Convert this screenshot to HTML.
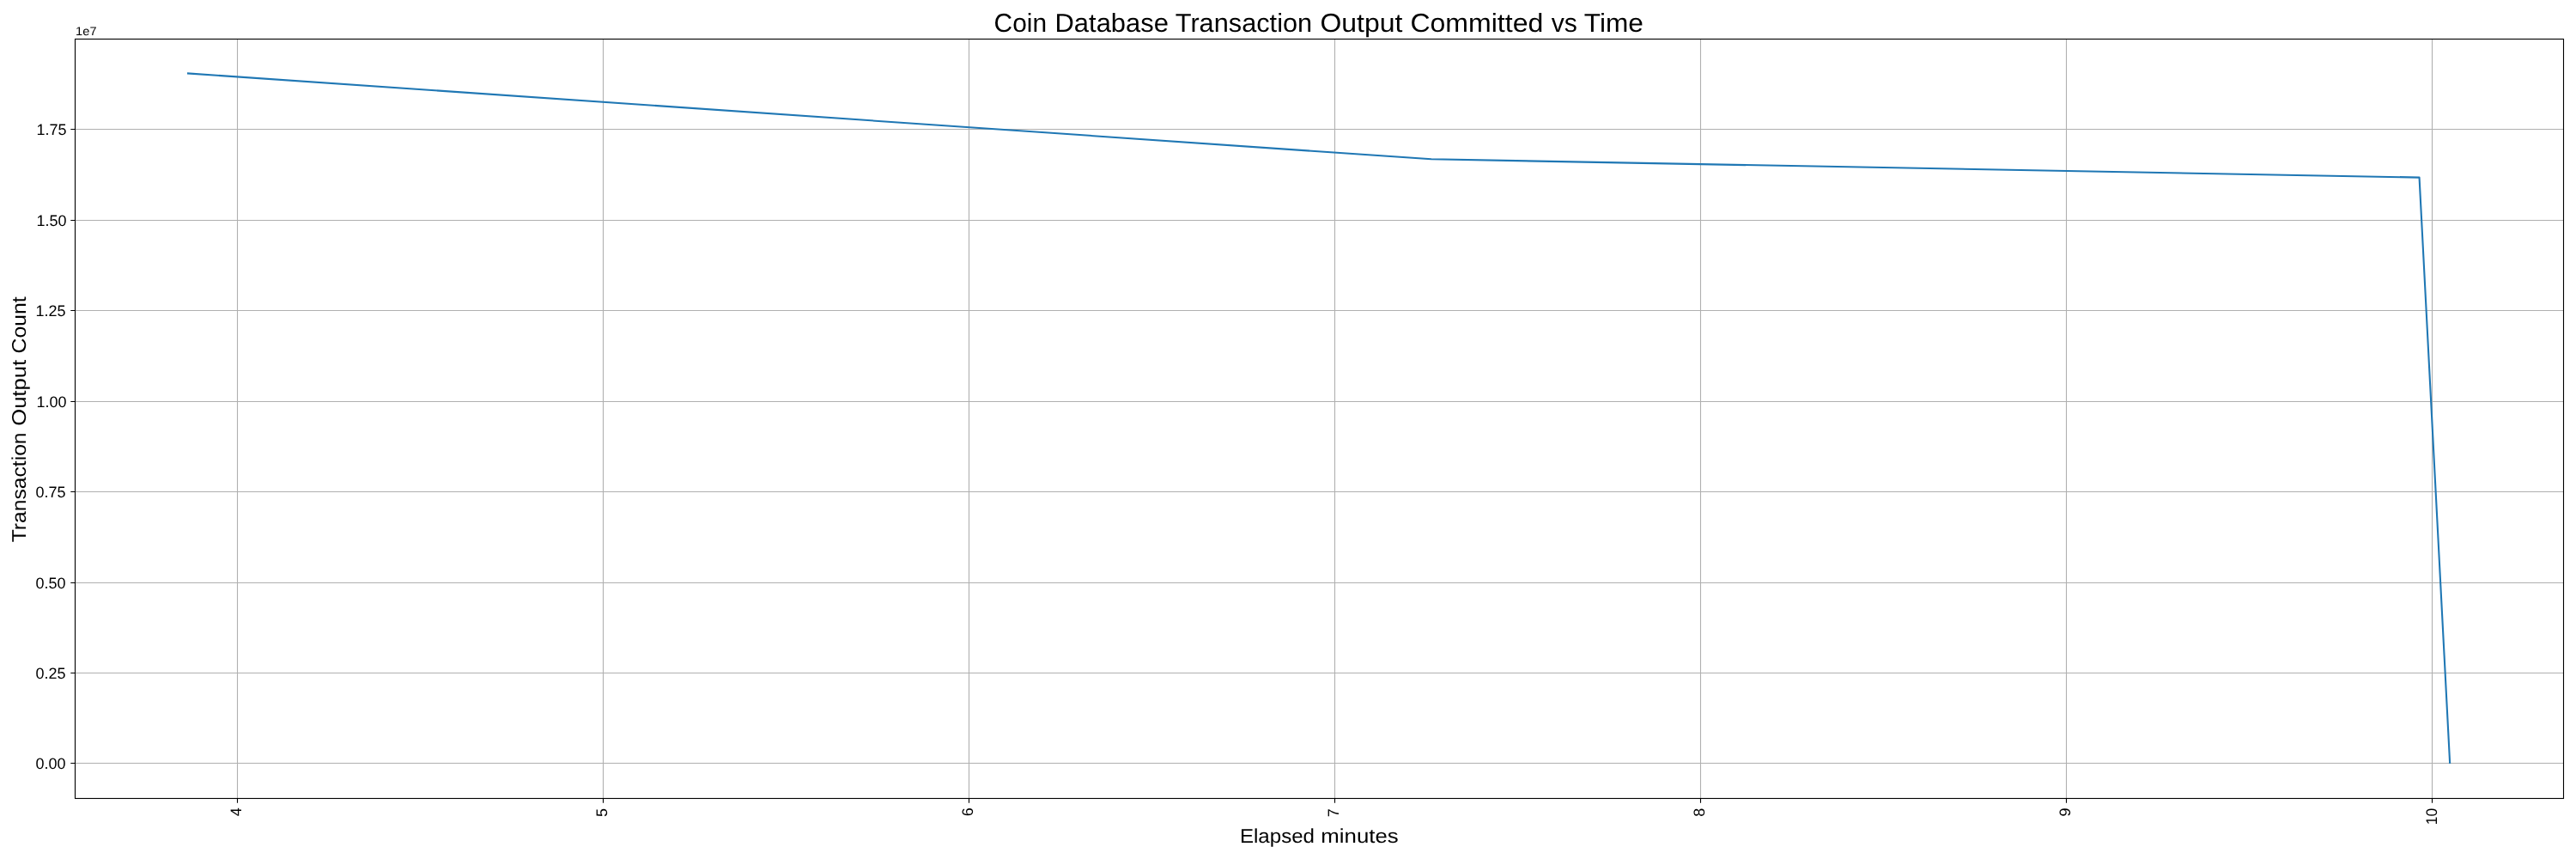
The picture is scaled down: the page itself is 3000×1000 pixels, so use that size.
<!DOCTYPE html><html><head><meta charset="utf-8"><style>html,body{margin:0;padding:0;background:#fff;width:3000px;height:1000px;overflow:hidden}svg{display:block;will-change:transform}text{font-family:"Liberation Sans",sans-serif;fill:#000;text-rendering:geometricPrecision}</style></head><body>
<svg width="3000" height="1000" viewBox="0 0 3000 1000">
<rect x="0" y="0" width="3000" height="1000" fill="#fff"/>
<path d="M276.50 45.50V929.50M702.50 45.50V929.50M1128.50 45.50V929.50M1554.50 45.50V929.50M1980.50 45.50V929.50M2406.50 45.50V929.50M2832.50 45.50V929.50M87.50 888.50H2985.50M87.50 783.50H2985.50M87.50 678.50H2985.50M87.50 572.50H2985.50M87.50 467.50H2985.50M87.50 361.50H2985.50M87.50 256.50H2985.50M87.50 150.50H2985.50" stroke="#b0b0b0" stroke-width="1.11" fill="none"/>
<path d="M218.00 85.40 L1666.90 185.30 L2817.55 206.60 L2853.15 889.00" stroke="#1f77b4" stroke-width="2.08" fill="none" stroke-linejoin="round" stroke-linecap="butt"/>
<rect x="87.50" y="45.50" width="2898.00" height="884.00" stroke="#000" stroke-width="1.11" fill="none" stroke-linejoin="miter"/>
<path d="M82.30 888.50H87.50M82.30 783.50H87.50M82.30 678.50H87.50M82.30 572.50H87.50M82.30 467.50H87.50M82.30 361.50H87.50M82.30 256.50H87.50M82.30 150.50H87.50M276.50 929.50V934.70M702.50 929.50V934.70M1128.50 929.50V934.70M1554.50 929.50V934.70M1980.50 929.50V934.70M2406.50 929.50V934.70M2832.50 929.50V934.70" stroke="#000" stroke-width="1.11" fill="none"/>
<text transform="translate(76.50,894.90) scale(1.0,1)" text-anchor="end" font-size="18">0.00</text>
<text transform="translate(76.50,789.90) scale(1.0,1)" text-anchor="end" font-size="18">0.25</text>
<text transform="translate(76.50,684.90) scale(1.0,1)" text-anchor="end" font-size="18">0.50</text>
<text transform="translate(76.50,578.90) scale(1.0,1)" text-anchor="end" font-size="18">0.75</text>
<text transform="translate(77.50,473.90) scale(1.0,1)" text-anchor="end" font-size="18">1.00</text>
<text transform="translate(76.50,367.90) scale(1.0,1)" text-anchor="end" font-size="18">1.25</text>
<text transform="translate(77.50,262.90) scale(1.0,1)" text-anchor="end" font-size="18">1.50</text>
<text transform="translate(77.50,156.90) scale(1.0,1)" text-anchor="end" font-size="18">1.75</text>
<text transform="translate(281.30,940.30) rotate(-90) scale(1.0,1)" text-anchor="end" font-size="18">4</text>
<text transform="translate(707.30,941.10) rotate(-90) scale(1.0,1)" text-anchor="end" font-size="18">5</text>
<text transform="translate(1133.30,940.30) rotate(-90) scale(1.0,1)" text-anchor="end" font-size="18">6</text>
<text transform="translate(1559.30,941.30) rotate(-90) scale(1.0,1)" text-anchor="end" font-size="18">7</text>
<text transform="translate(1985.30,940.80) rotate(-90) scale(1.0,1)" text-anchor="end" font-size="18">8</text>
<text transform="translate(2411.30,940.50) rotate(-90) scale(1.0,1)" text-anchor="end" font-size="18">9</text>
<text transform="translate(2838.10,940.80) rotate(-90) scale(0.97,1)" text-anchor="end" font-size="18">10</text>
<text transform="translate(88.10,41.00) scale(1.047,1)" font-size="14">1e7</text>
<text transform="translate(1157.61,36.80) scale(0.9865,1)" font-size="30.3">Coin</text>
<text transform="translate(1228.54,36.80) scale(1.0203,1)" font-size="30.3">Database</text>
<text transform="translate(1368.77,36.80) scale(1.0139,1)" font-size="30.3">Transaction</text>
<text transform="translate(1537.40,36.80) scale(1.0543,1)" font-size="30.3">Output</text>
<text transform="translate(1642.41,36.80) scale(1.0574,1)" font-size="30.3">Committed</text>
<text transform="translate(1806.78,36.80) scale(0.9948,1)" font-size="30.3">vs</text>
<text transform="translate(1844.79,36.80) scale(1.0433,1)" font-size="30.3">Time</text>
<text transform="translate(1443.91,981.00) scale(1.0476,1)" font-size="23">Elapsed</text>
<text transform="translate(1538.31,981.00) scale(1.1225,1)" font-size="23">minutes</text>
<text transform="translate(30.00,631.29) rotate(-90) scale(1.0715,1)" font-size="23">Transaction</text>
<text transform="translate(30.00,495.70) rotate(-90) scale(1.1105,1)" font-size="23">Output</text>
<text transform="translate(30.00,411.40) rotate(-90) scale(1.0747,1)" font-size="23">Count</text>
</svg></body></html>
